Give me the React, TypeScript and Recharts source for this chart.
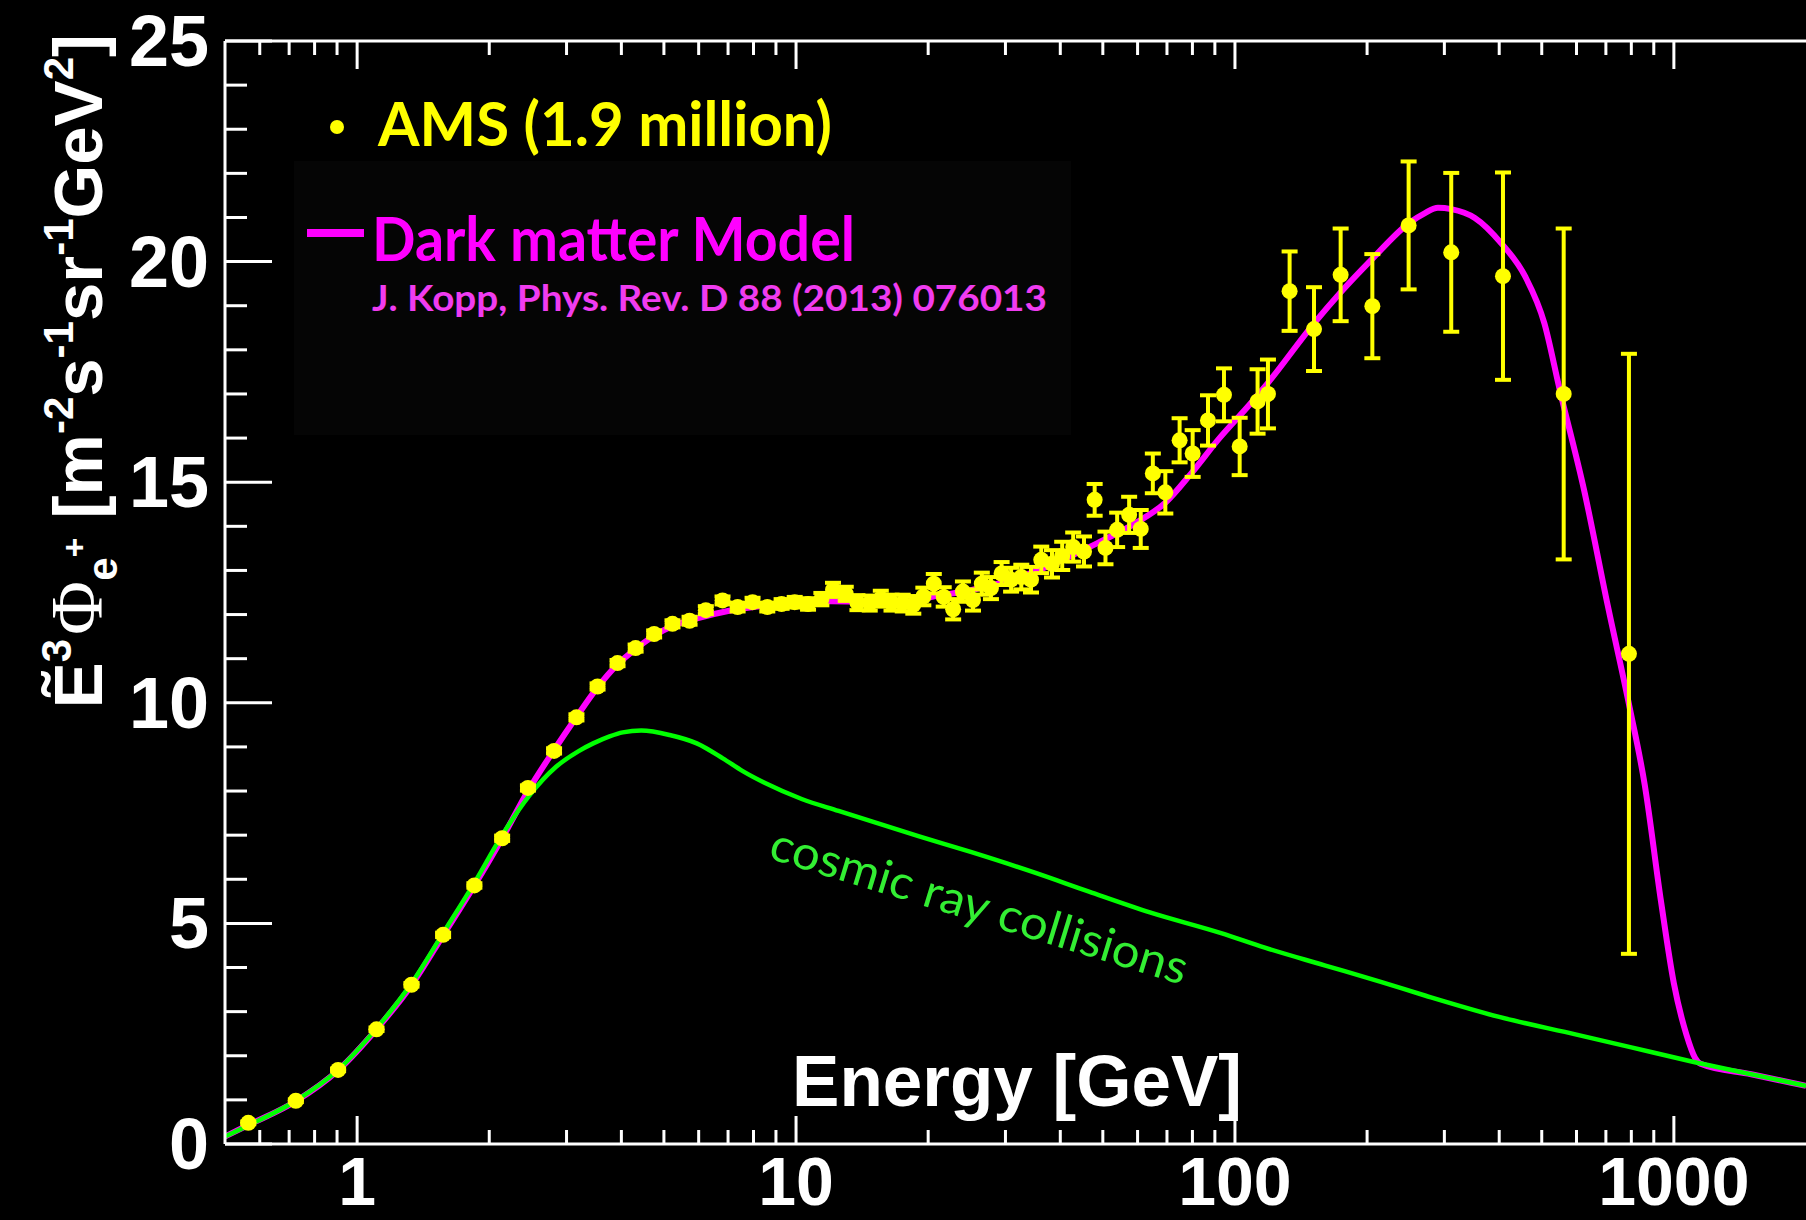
import React from 'react';
import { ComposedChart, Line, Scatter, ErrorBar, XAxis, YAxis } from 'recharts';

// AMS positron flux measurements: energy [GeV], E^3 * flux, symmetric uncertainty
const amsEnergy = [
  0.565, 0.725, 0.905, 1.107, 1.33, 1.57, 1.85, 2.14, 2.45, 2.81, 3.16, 3.53, 3.92, 4.31, 4.75, 5.23,
  5.72, 6.23, 6.8, 7.36, 7.96, 8.6, 9.27, 9.93, 10.65, 11.42, 12.14, 12.98, 13.8, 14.72, 15.6, 16.5,
  17.5, 18.5, 19.5, 20.6, 21.7, 22.8, 24.0, 25.3, 26.5, 27.8, 29.4, 30.9, 32.6, 34.3, 36.2, 38.3,
  40.4, 42.8, 45.3, 47.9, 50.7, 53.9, 57.4, 61.0, 65.0, 69.4, 74.8, 80.1, 86.8, 94.4, 102.5, 112.6,
  118.9, 133.2, 151.4, 174.1, 205.6, 248.7, 311, 408, 561, 790,
];
const amsFlux = [
  0.48, 0.98, 1.68, 2.6, 3.61, 4.74, 5.86, 6.93, 8.07, 8.91, 9.67, 10.37, 10.9, 11.24, 11.56, 11.79,
  11.86, 12.1, 12.32, 12.17, 12.28, 12.17, 12.24, 12.28, 12.24, 12.35, 12.56, 12.47, 12.27, 12.26, 12.36, 12.27,
  12.26, 12.22, 12.41, 12.7, 12.4, 12.12, 12.52, 12.33, 12.7, 12.6, 12.93, 12.79, 12.85, 12.79, 13.24, 13.15,
  13.33, 13.53, 13.43, 14.6, 13.51, 13.92, 14.26, 13.94, 15.2, 14.77, 15.95, 15.65, 16.4, 16.98, 15.81, 16.83,
  17.0, 19.33, 18.47, 19.7, 18.99, 20.82, 20.21, 19.67, 17.0, 11.11,
];
const amsError = [
  0.03, 0.03, 0.03, 0.04, 0.04, 0.05, 0.05, 0.06, 0.06, 0.06, 0.07, 0.07, 0.07, 0.08, 0.08, 0.08,
  0.09, 0.09, 0.09, 0.1, 0.1, 0.1, 0.11, 0.12, 0.13, 0.14, 0.16, 0.16, 0.17, 0.17, 0.18, 0.18,
  0.19, 0.2, 0.2, 0.22, 0.22, 0.23, 0.23, 0.24, 0.25, 0.25, 0.26, 0.27, 0.28, 0.29, 0.3, 0.31,
  0.32, 0.33, 0.34, 0.36, 0.37, 0.39, 0.41, 0.43, 0.45, 0.48, 0.5, 0.53, 0.57, 0.6, 0.65, 0.73,
  0.78, 0.9, 0.95, 1.05, 1.18, 1.45, 1.8, 2.35, 3.75, 6.8,
];

// Dark matter model (J. Kopp 2013)
const modelEnergy = [
  0.5, 0.565, 0.725, 0.905, 1.107, 1.33, 1.57, 1.85, 2.14, 2.45, 2.81, 3.16, 3.53, 3.92, 4.31, 4.75,
  5.23, 5.98, 7, 8.45, 10, 12, 15.6, 18.5, 20.4, 25, 34.3, 48.6, 60, 69.3, 79.5, 91.5, 108.9, 118.9,
  151.4, 174, 205, 249, 271, 290, 311, 352, 404, 458, 507, 549, 625, 707, 793, 858, 935, 1000, 1068,
  1118, 1150, 1500, 2000,
];
const modelFlux = [
  0.17, 0.43, 0.97, 1.67, 2.6, 3.6, 4.73, 5.86, 6.93, 8.0, 8.93, 9.68, 10.35, 10.87, 11.22, 11.52,
  11.74, 11.92, 12.08, 12.2, 12.26, 12.3, 12.28, 12.3, 12.4, 12.55, 12.94, 13.62, 14.1, 14.53, 15.2, 15.96, 16.8, 17.25,
  18.6, 19.3, 20.05, 20.87, 21.1, 21.22, 21.19, 20.99, 20.42, 19.67, 18.6, 17.11, 14.8, 12.2, 9.89, 8.15, 5.49, 3.64, 2.48,
  1.95, 1.82, 1.58, 1.32,
];

// Secondary production from cosmic ray collisions
const collisionEnergy = [
  0.5, 0.565, 0.725, 0.905, 1.107, 1.33, 1.57, 1.85, 2.14, 2.46, 2.84, 3.19, 3.45, 3.76, 4.03, 4.44,
  5.15, 5.94, 6.81, 7.56, 8.5, 10.3, 12.5, 15, 19, 25, 35, 46.5, 64, 93, 117, 160, 214, 272, 400, 600,
  800, 1110, 1500, 2000,
];
const collisionFlux = [
  0.17, 0.42, 0.98, 1.68, 2.62, 3.64, 4.78, 5.92, 7.0, 7.88, 8.55, 8.9, 9.08, 9.24, 9.33, 9.37,
  9.27, 9.08, 8.74, 8.45, 8.18, 7.82, 7.55, 7.3, 6.98, 6.62, 6.15, 5.72, 5.25, 4.78, 4.45, 4.05, 3.68, 3.36, 2.88, 2.48,
  2.19, 1.86, 1.58, 1.32,
];

const xMajorTicks = [1, 10, 100, 1000];
const xMinorTicks = [
  0.6, 0.7, 0.8, 0.9, 2, 3, 4, 5, 6, 7, 8, 9, 20, 30, 40, 50, 60, 70, 80, 90,
  200, 300, 400, 500, 600, 700, 800, 900,
];
const yTicks = Array.from({ length: 26 }, (_, i) => i);
const yMajorStep = 5;

const amsData = amsEnergy.map((E, i) => ({ E, v: amsFlux[i], err: amsError[i] }));
const modelData = modelEnergy.map((E, i) => ({ E, v: modelFlux[i] }));
const collisionData = collisionEnergy.map((E, i) => ({ E, v: collisionFlux[i] }));
const xTicks = [...xMinorTicks, ...xMajorTicks].sort((a, b) => a - b);

const W = 1806;
const H = 1220;
const WHITE = '#ffffff';
const YELLOW = '#ffff00';
const MAGENTA = '#ff00ff';
const GREEN = '#00ff00';
const AXIS_FONT = '"Liberation Sans", Arial, Helvetica, sans-serif';
const TEXT_FONT = 'Lato, "Open Sans", sans-serif';

const BottomTick = (props: any) => {
  const { x, y, payload } = props;
  const major = xMajorTicks.includes(payload.value);
  return (
    <g>
      <line x1={x} y1={y} x2={x} y2={y - (major ? 28 : 14)} stroke={WHITE} strokeWidth={3} />
      {major && (
        <text
          x={x}
          y={y + 61}
          textAnchor="middle"
          fill={WHITE}
          fontFamily={AXIS_FONT}
          fontWeight="bold"
          fontSize={68}
        >
          {payload.value}
        </text>
      )}
    </g>
  );
};

const TopTick = (props: any) => {
  const { x, y, payload } = props;
  const major = xMajorTicks.includes(payload.value);
  return <line x1={x} y1={y} x2={x} y2={y + (major ? 28 : 14)} stroke={WHITE} strokeWidth={3} />;
};

const LeftTick = (props: any) => {
  const { x, y, payload } = props;
  const major = payload.value % yMajorStep === 0;
  return (
    <g>
      <line x1={x} y1={y} x2={x + (major ? 47 : 22)} y2={y} stroke={WHITE} strokeWidth={3} />
      {major && (
        <text
          x={x - 16}
          y={y}
          textAnchor="end"
          dominantBaseline="central"
          fill={WHITE}
          fontFamily={AXIS_FONT}
          fontWeight="bold"
          fontSize={72}
        >
          {payload.value}
        </text>
      )}
    </g>
  );
};

const AmsDot = (props: any) => {
  const { cx, cy } = props;
  if (cx == null || cy == null) return null;
  return <circle cx={cx} cy={cy} r={8} fill={YELLOW} />;
};

const sup = { fontSize: 42 };

export default function App() {
  return (
    <div style={{ position: 'absolute', left: 0, top: 0, width: W, height: H, background: '#000', overflow: 'hidden' }}>
      <ComposedChart width={W} height={H} margin={{ top: 0, right: 0, bottom: 0, left: 0 }}>
        <XAxis
          xAxisId="bottom"
          dataKey="E"
          type="number"
          scale="log"
          domain={[0.5, 2000]}
          allowDataOverflow
          ticks={xTicks}
          interval={0}
          tickSize={0}
          tickMargin={0}
          tickLine={false}
          height={76}
          axisLine={{ stroke: WHITE, strokeWidth: 3 }}
          tick={<BottomTick />}
        />
        <XAxis
          xAxisId="top"
          orientation="top"
          dataKey="E"
          type="number"
          scale="log"
          domain={[0.5, 2000]}
          allowDataOverflow
          ticks={xTicks}
          interval={0}
          tickSize={0}
          tickMargin={0}
          tickLine={false}
          height={41}
          axisLine={{ stroke: WHITE, strokeWidth: 3 }}
          tick={<TopTick />}
        />
        <YAxis
          yAxisId="left"
          dataKey="v"
          type="number"
          domain={[0, 25]}
          allowDataOverflow
          ticks={yTicks}
          interval={0}
          tickSize={0}
          tickMargin={0}
          tickLine={false}
          width={225}
          axisLine={{ stroke: WHITE, strokeWidth: 3 }}
          tick={<LeftTick />}
        />
        <Line
          xAxisId="bottom"
          yAxisId="left"
          data={modelData}
          dataKey="v"
          type="monotone"
          stroke={MAGENTA}
          strokeWidth={6}
          dot={false}
          isAnimationActive={false}
        />
        <Line
          xAxisId="bottom"
          yAxisId="left"
          data={collisionData}
          dataKey="v"
          type="monotone"
          stroke={GREEN}
          strokeWidth={4.5}
          dot={false}
          isAnimationActive={false}
        />
        <Scatter
          xAxisId="bottom"
          yAxisId="left"
          data={amsData}
          dataKey="v"
          fill={YELLOW}
          shape={<AmsDot />}
          isAnimationActive={false}
        >
          <ErrorBar dataKey="err" direction="y" width={8} strokeWidth={4} stroke={YELLOW} isAnimationActive={false} />
        </Scatter>
      </ComposedChart>

      <svg width={W} height={H} style={{ position: 'absolute', left: 0, top: 0, pointerEvents: 'none' }}>
        <rect x={294} y={161} width={777} height={274} fill="#050505" />

        {/* Legend */}
        <circle cx={337} cy={127} r={7} fill={YELLOW} />
        <text x={378} y={146} fill={YELLOW} fontFamily={TEXT_FONT} fontWeight="bold" fontSize={62} textLength={454} lengthAdjust="spacingAndGlyphs">
          AMS (1.9 million)
        </text>
        <line x1={307} y1={233} x2={364} y2={233} stroke={MAGENTA} strokeWidth={8} />
        <text x={372} y={261} fill={MAGENTA} fontFamily={TEXT_FONT} fontWeight="bold" fontSize={62} textLength={483} lengthAdjust="spacingAndGlyphs">
          Dark matter Model
        </text>
        <text x={372} y={311} fill="#f03cf0" fontFamily={TEXT_FONT} fontWeight="bold" fontSize={36} textLength={675} lengthAdjust="spacingAndGlyphs">
          J. Kopp, Phys. Rev. D 88 (2013) 076013
        </text>

        {/* Curve annotation */}
        <text
          transform="translate(767, 858) rotate(17)"
          fill="#33ee33"
          fontFamily={TEXT_FONT}
          fontSize={47}
          textLength={434}
          lengthAdjust="spacingAndGlyphs"
        >
          cosmic ray collisions
        </text>

        {/* Axis titles */}
        <text
          x={1017}
          y={1106}
          textAnchor="middle"
          fill={WHITE}
          fontFamily={AXIS_FONT}
          fontWeight="bold"
          fontSize={72}
          textLength={450}
          lengthAdjust="spacingAndGlyphs"
        >
          Energy [GeV]
        </text>
        <text
          transform="translate(102, 34) rotate(-90)"
          textAnchor="end"
          fill={WHITE}
          fontFamily={AXIS_FONT}
          fontWeight="bold"
          fontSize={69}
        >
          <tspan>Ẽ</tspan>
          <tspan {...sup} dy={-31}>3</tspan>
          <tspan fontFamily='"Liberation Serif", "DejaVu Serif", serif' fontWeight="normal" fontSize={74} dx={4} dy={31}>Φ</tspan>
          <tspan {...sup} dy={15}>e</tspan>
          <tspan fontSize={34} dy={-31}>+</tspan>
          <tspan dy={16}>{' [m'}</tspan>
          <tspan {...sup} dy={-29}>-2</tspan>
          <tspan dy={29}>s</tspan>
          <tspan {...sup} dy={-29}>-1</tspan>
          <tspan dy={29}>sr</tspan>
          <tspan {...sup} dy={-29}>-1</tspan>
          <tspan dy={29}>GeV</tspan>
          <tspan {...sup} dy={-29}>2</tspan>
          <tspan dy={29}>]</tspan>
        </text>
      </svg>
    </div>
  );
}
